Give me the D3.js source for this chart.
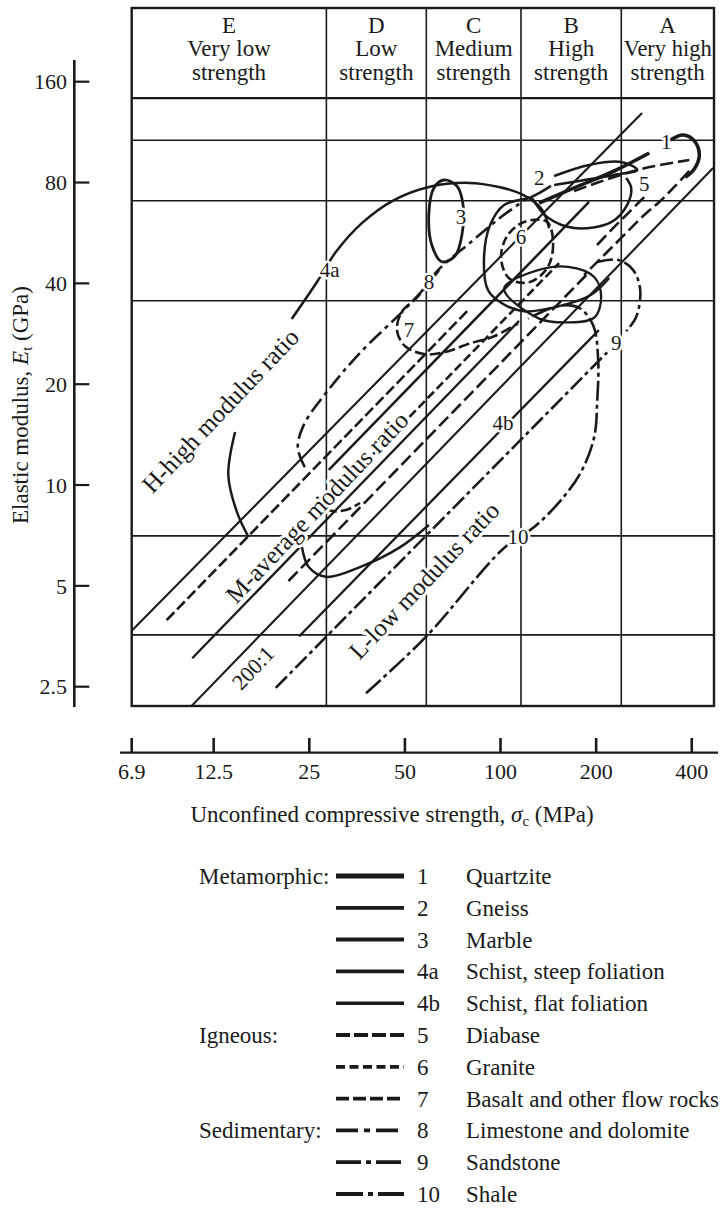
<!DOCTYPE html>
<html><head><meta charset="utf-8">
<script src="https://cdn.jsdelivr.net/npm/d3@7"></script>
<style>
html,body{margin:0;padding:0;background:#fff;}
svg{display:block;font-family:"Liberation Serif","Times New Roman",serif;}
</style></head><body>
<svg id="chart" width="724" height="1208"></svg>
<script>
// Strength classes (header)
const classLetters = ["E", "D", "C", "B", "A"];
const classNames = [["Very low", "strength"], ["Low", "strength"], ["Medium", "strength"], ["High", "strength"], ["Very high", "strength"]];
const classBounds = [28.3, 58.4, 116, 240];          // MPa, class edges
const xTicks = [6.9, 12.5, 25, 50, 100, 200, 400];    // MPa
const yTicks = [2.5, 5, 10, 20, 40, 80, 160];         // GPa
const gridE = [107, 70.6, 35.5, 7.05, 3.57];          // GPa, horizontal rules

// Modulus-ratio reference lines  [sigma_c (MPa), E_t (GPa)]
const ratio500 = [[6.84, 3.64], [279, 129]];
const ratio200 = [[10.6, 2.18], [467, 88.4]];

// Envelope boundaries, [sigma_c (MPa), E_t (GPa)]
const quartziteEdge = [[132.3, 69.5], [170.5, 77.1], [228, 86.6], [293.9, 98.0]];
const quartziteEnd = [[342.3, 107.2], [376.1, 110.9], [407.4, 106.5], [422.5, 96.7], [407.4, 87.8], [381.7, 82.9]];
const gneissLens = [[147.5, 83.7], [190.1, 90.3], [239.9, 92.1], [269.3, 87.2], [228.0, 84.3], [176.8, 80.9], [147.5, 78.7]];
const gneissHook = [[125.7, 71.9], [140.2, 63.1], [170.5, 58.5], [223.1, 60.9], [250.5, 68.6], [257.9, 77.1], [248.7, 82.6]];
const gneissLoop = [[144.2, 78.2], [124.8, 72.4], [102.6, 68.6], [92.7, 59.7], [88.7, 47.3], [91.3, 38.2], [100.4, 35.0], [118.6, 33.0], [152.9, 34.2], [193.0, 37.0], [219.8, 41.5]];
const gneissBand = [[28.8, 11.1], [190, 70]];
const marbleLoop = [[66.3, 81.4], [72.9, 78.1], [76.2, 68.6], [75.6, 55.8], [71.9, 48.3], [65.4, 46.4], [60.8, 52], [59.5, 64.9], [61.7, 77.1]];
const schistSteepHook = [[16.1, 6.99], [14.8, 8.30], [13.9, 10.7], [14.6, 14.4]];
const schistSteepArc = [[22.0, 31.3], [26.4, 40.3], [30.3, 49.6], [36.6, 60.5], [46.2, 70.9], [59.5, 77.6], [79.6, 79.8], [98.9, 77.6], [116.1, 74.0], [134.3, 66.9], [142.2, 58.5]];
const schistFlatEdge = [[23.2, 3.53], [204, 29.0]];
const schistFlatBand = [[10.7, 3.04], [114.4, 30.9]];
const schistFlatEnd = [[102.6, 38.6], [131.3, 43.8], [163.2, 44.8], [197.2, 41.8], [207.4, 36.4], [197.2, 31.6], [163.2, 30.6], [132.3, 31.4]];
const lowerLoop = [[23.7, 6.53], [24.9, 5.69], [28.2, 5.32], [36.1, 5.69], [47.9, 6.49], [59.5, 7.60]];
const diabaseUpper = [[170.5, 75.5], [228.0, 83.1], [285.5, 88.4], [392.9, 93.4]];
const diabaseLower = [[392.9, 86.6], [352.4, 77.6], [316.0, 70.0], [283.4, 64.0], [245.1, 55.8], [212.0, 48.6], [183.3, 42.4]];
const diabaseInner = [[283.4, 72.4], [254.2, 65.3], [223.1, 57.7], [197.2, 51.0]];
const diabaseBand = [[21.5, 5.17], [190, 43.2]];
const graniteLoop = [[140.2, 61.0], [146.4, 52.1], [140.2, 44.4], [123.0, 40.3], [106.4, 41.4], [100.4, 47.6], [104.9, 55.4], [118.6, 61.0]];
const graniteBand = [[26.8, 8.42], [152.9, 46.0]];
const basaltLoop = [[64.0, 43.8], [55.0, 36.6], [48.9, 32.9], [47.2, 29.0], [50.0, 26.0], [57.4, 24.6], [66.4, 24.9], [79.6, 26.4], [95.4, 27.8], [113.6, 30.4]];
const basaltBand = [[8.89, 3.95], [79.6, 33.5]];
const basaltTail = [[26.4, 9.22], [28.8, 8.42], [32.6, 8.42], [36.1, 8.84]];
const limestoneEdge = [[24.2, 11.3], [23.0, 12.9], [24.0, 15.1], [28.8, 19.3], [36.1, 24.8], [49.7, 33.3], [55.8, 37.4], [63.6, 43.8], [80.8, 53.2], [100.4, 63.1], [123.0, 72.4]];
const sandstoneEdge = [[19.6, 2.48], [216.7, 24.9]];
const sandstoneEnd = [[201.4, 46.3], [234.7, 47.0], [261.7, 43.8], [275.3, 38.2], [267.5, 31.8], [248.7, 28.8]];
const shaleEdge = [[37.7, 2.39], [58.2, 3.52], [102.6, 6.49], [127.6, 7.49], [155, 9.02], [179.3, 10.94], [197.2, 13.9], [201.6, 17.9], [203, 23.6], [195.7, 30.0], [176.8, 33.8], [152.9, 34.3], [122.1, 31.4]];

// Envelope numbers placed in the field  [label, sigma_c, E_t]
const rockTags = [["1", 332.5, 105.8], ["2", 132.3, 82.5], ["3", 75.1, 63.1], ["4a", 29.0, 44.1], ["4b", 101.9, 15.4],
  ["5", 283.4, 79.2], ["6", 116.1, 55.0], ["7", 51.5, 29.0], ["8", 59.5, 40.6], ["9", 231.3, 26.6], ["10", 113.6, 6.99]];
// Region captions along the ratio direction  [text, sigma_c, E_t]
const regionTags = [["H-high modulus ratio", 13.1, 16.7], ["M-average modulus ratio", 26.4, 8.6],
  ["L-low modulus ratio", 57.4, 5.20], ["200:1", 16.6, 2.85]];

// Legend
const legendGroups = ["Metamorphic:", "", "", "", "", "Igneous:", "", "", "Sedimentary:", "", ""];
const legendNums = ["1", "2", "3", "4a", "4b", "5", "6", "7", "8", "9", "10"];
const legendNames = ["Quartzite", "Gneiss", "Marble", "Schist, steep foliation", "Schist, flat foliation", "Diabase", "Granite",
  "Basalt and other flow rocks", "Limestone and dolomite", "Sandstone", "Shale"];

// Line style per rock type (key: dash in the field, swatch: dash in the legend)
const rockStyles = {
  "ratio": {dash: null, width: 2.1},
  "1": {dash: null, width: 3.6},
  "2": {dash: null, width: 2.5},
  "3": {dash: null, width: 2.8},
  "4a": {dash: null, width: 2.5},
  "4b": {dash: null, width: 2.3},
  "5": {dash: "13,5", width: 2.6, swatch: "14,4"},
  "6": {dash: "9,4", width: 2.6, swatch: "9,4.5"},
  "7": {dash: "11,4", width: 2.6, swatch: "13,4"},
  "8": {dash: "16,5,4,5", width: 2.6, swatch: "22,6,6,6"},
  "9": {dash: "16,4,4,4", width: 2.6, swatch: "25,5,5,5"},
  "10": {dash: "20,4,4,4", width: 2.6, swatch: "27,5,5,5"}
};

const strokes = [
  {rock: "ratio", pts: ratio500, kind: "line"},
  {rock: "ratio", pts: ratio200, kind: "line"},
  {rock: "4b", pts: schistFlatBand, kind: "line"},
  {rock: "7", pts: basaltBand, kind: "line"},
  {rock: "2", pts: gneissBand, kind: "line"},
  {rock: "6", pts: graniteBand, kind: "line"},
  {rock: "5", pts: diabaseBand, kind: "line"},
  {rock: "4b", pts: schistFlatEdge, kind: "line"},
  {rock: "9", pts: sandstoneEdge, kind: "line"},
  {rock: "10", pts: shaleEdge, kind: "curve"},
  {rock: "4a", pts: schistSteepHook, kind: "curve"},
  {rock: "4a", pts: schistSteepArc, kind: "curve"},
  {rock: "3", pts: marbleLoop, kind: "closed"},
  {rock: "7", pts: basaltLoop, kind: "curve"},
  {rock: "7", pts: basaltTail, kind: "curve"},
  {rock: "8", pts: limestoneEdge, kind: "curve"},
  {rock: "2", pts: gneissLoop, kind: "curve"},
  {rock: "2", pts: gneissLens, kind: "curve"},
  {rock: "2", pts: gneissHook, kind: "curve"},
  {rock: "1", pts: quartziteEdge, kind: "curve"},
  {rock: "1", pts: quartziteEnd, kind: "curve"},
  {rock: "5", pts: diabaseUpper, kind: "curve"},
  {rock: "5", pts: diabaseLower, kind: "curve"},
  {rock: "5", pts: diabaseInner, kind: "curve"},
  {rock: "6", pts: graniteLoop, kind: "closed"},
  {rock: "4b", pts: schistFlatEnd, kind: "closed"},
  {rock: "9", pts: sandstoneEnd, kind: "curve"},
  {rock: "2", pts: lowerLoop, kind: "curve"}
];

const svg = d3.select("#chart");
const ink = "#1a1a1a";

// Scales: log axes for strength and modulus
const x = d3.scaleLog().domain([6.9, 470]).range([131.7, 714]);
const y = d3.scaleLog().domain([2.5, 160]).range([686.7, 81.7]);
const box = {left: x(6.9), right: x(470), top: 8, head: y(143), bottom: 706};

// Frame, header and grid
const grid = svg.append("g").attr("stroke", ink).attr("fill", "none");
grid.selectAll("line.h").data(gridE).join("line")
  .attr("x1", box.left).attr("x2", box.right)
  .attr("y1", d => y(d)).attr("y2", d => y(d)).attr("stroke-width", 1.6);
grid.selectAll("line.v").data(classBounds).join("line")
  .attr("x1", d => x(d)).attr("x2", d => x(d))
  .attr("y1", box.top).attr("y2", box.bottom).attr("stroke-width", 1.6);
grid.append("line").attr("x1", box.left).attr("x2", box.right)
  .attr("y1", box.head).attr("y2", box.head).attr("stroke-width", 2.2);
grid.append("rect").attr("x", box.left).attr("y", box.top)
  .attr("width", box.right - box.left).attr("height", box.bottom - box.top).attr("stroke-width", 2.4);

// Header class names
const edges = [6.9, ...classBounds, 470];
const head = svg.append("g").attr("font-size", 23).attr("text-anchor", "middle").attr("fill", ink);
classLetters.forEach((L, i) => {
  const cx = (x(edges[i]) + x(edges[i + 1])) / 2;
  head.append("text").attr("x", cx).attr("y", 33).text(L);
  const first = head.append("text").attr("x", cx).attr("y", 56).text(classNames[i][0]);
  if (i === 4) first.attr("textLength", 88).attr("lengthAdjust", "spacingAndGlyphs");
  head.append("text").attr("x", cx).attr("y", 80).text(classNames[i][1]);
});

// Envelopes
svg.append("clipPath").attr("id", "plotClip").append("rect")
  .attr("x", box.left).attr("y", box.head).attr("width", box.right - box.left).attr("height", box.bottom - box.head);
const field = svg.append("g").attr("clip-path", "url(#plotClip)");
const mk = kind => d3.line().x(d => x(d[0])).y(d => y(d[1]))
  .curve(kind === "line" ? d3.curveLinear : kind === "closed" ? d3.curveCatmullRomClosed.alpha(0.5) : d3.curveCatmullRom.alpha(0.5));
field.selectAll("path").data(strokes).join("path")
  .attr("d", d => mk(d.kind)(d.pts))
  .attr("fill", "none").attr("stroke", ink)
  .attr("stroke-width", d => rockStyles[d.rock].width)
  .attr("stroke-dasharray", d => rockStyles[d.rock].dash)
  .attr("stroke-linecap", "butt").attr("stroke-linejoin", "round");

// Region captions, rotated along the constant-ratio direction
const ratioAngle = -Math.atan2(y(1) - y(2), x(2) - x(1)) * 180 / Math.PI;
svg.append("g").selectAll("text").data(regionTags).join("text")
  .attr("transform", d => `translate(${x(d[1])},${y(d[2])}) rotate(${ratioAngle})`)
  .attr("text-anchor", "middle").attr("dy", "0.35em")
  .attr("font-size", d => d[0] === "200:1" ? 22 : 25).attr("fill", ink)
  .attr("stroke", "#fff").attr("stroke-width", 6).attr("paint-order", "stroke").attr("stroke-linejoin", "round")
  .text(d => d[0]);

// Envelope numbers
svg.append("g").selectAll("text").data(rockTags).join("text")
  .attr("x", d => x(d[1])).attr("y", d => y(d[2])).attr("dy", "0.35em")
  .attr("text-anchor", "middle").attr("font-size", 21).attr("fill", ink)
  .attr("stroke", "#fff").attr("stroke-width", 5).attr("paint-order", "stroke").attr("stroke-linejoin", "round")
  .text(d => d[0]);

// Y axis (separate rule left of the frame)
const yAx = svg.append("g").attr("stroke", ink);
yAx.append("line").attr("x1", 74.3).attr("x2", 74.3).attr("y1", 60).attr("y2", 707).attr("stroke-width", 2.6);
yAx.selectAll("line.t").data(yTicks).join("line")
  .attr("x1", 74.3).attr("x2", 89.3).attr("y1", d => y(d)).attr("y2", d => y(d)).attr("stroke-width", 2.2);
svg.append("g").attr("font-size", 22).attr("text-anchor", "end").attr("fill", ink)
  .selectAll("text").data(yTicks).join("text")
  .attr("x", 67).attr("y", d => y(d)).attr("dy", "0.35em").text(d => d);

// X axis (separate rule below the frame)
const xAx = svg.append("g").attr("stroke", ink);
xAx.append("line").attr("x1", 120).attr("x2", 718).attr("y1", 752.7).attr("y2", 752.7).attr("stroke-width", 2.2);
xAx.selectAll("line.t").data(xTicks).join("line")
  .attr("x1", d => x(d)).attr("x2", d => x(d)).attr("y1", 752.7).attr("y2", 738).attr("stroke-width", 2.6);
svg.append("g").attr("font-size", 22).attr("text-anchor", "middle").attr("fill", ink)
  .selectAll("text").data(xTicks).join("text")
  .attr("x", d => x(d)).attr("y", 779).text(d => d);

// Axis titles
const yt = svg.append("text").attr("transform", "translate(28,405) rotate(-90)")
  .attr("text-anchor", "middle").attr("font-size", 23).attr("fill", ink);
yt.append("tspan").text("Elastic modulus, ");
yt.append("tspan").attr("font-style", "italic").text("E");
yt.append("tspan").attr("font-size", 15).attr("dy", 4).text("t");
yt.append("tspan").attr("dy", -4).text(" (GPa)");

const xt = svg.append("text").attr("x", 392).attr("y", 822)
  .attr("text-anchor", "middle").attr("font-size", 23).attr("fill", ink);
xt.append("tspan").text("Unconfined compressive strength, ");
xt.append("tspan").attr("font-style", "italic").text("σ");
xt.append("tspan").attr("font-size", 15).attr("dy", 4).text("c");
xt.append("tspan").attr("dy", -4).text(" (MPa)");

// Legend
const rowY = i => 876 + i * 31.8;
const leg = svg.append("g").attr("fill", ink).attr("font-size", 23);
legendNums.forEach((n, i) => {
  const st = rockStyles[n];
  leg.append("line").attr("x1", 336).attr("x2", 404).attr("y1", rowY(i)).attr("y2", rowY(i))
    .attr("stroke", ink).attr("stroke-width", st.width + 1.2)
    .attr("stroke-dasharray", st.swatch || null);
  leg.append("text").attr("x", 417).attr("y", rowY(i)).attr("dy", "0.35em").text(n);
  leg.append("text").attr("x", 466).attr("y", rowY(i)).attr("dy", "0.35em").text(legendNames[i]);
  if (legendGroups[i]) leg.append("text").attr("x", 199).attr("y", rowY(i)).attr("dy", "0.35em").text(legendGroups[i]);
});
</script>
</body></html>
